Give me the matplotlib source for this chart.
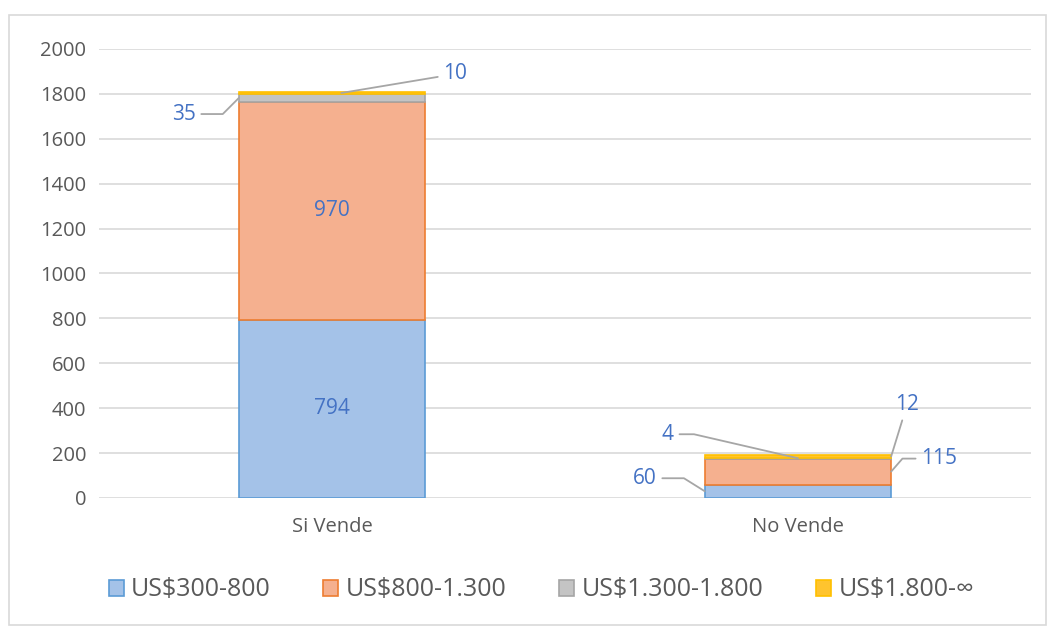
import matplotlib.pyplot as plt
from matplotlib.patches import Rectangle

plt.rcParams['font.family'] = ['Open Sans', 'DejaVu Sans']

categories = ['Si Vende', 'No Vende']
series = ['US$300-800', 'US$800-1.300', 'US$1.300-1.800', 'US$1.800-∞']
r300_800 = [794, 60]
r800_1300 = [970, 115]
r1300_1800 = [35, 4]
r1800_up = [10, 12]

faces = ['#a4c2e8', '#f5b08f', '#c4c4c4', '#ffc42e']
edges = ['#5b9bd5', '#ed7d31', '#a5a5a5', '#ffc000']
label_col = '#4472c4'
text_col = '#595959'

fig = plt.figure(figsize=(10.55, 6.33), dpi=100)
ax = fig.add_axes([0.0938, 0.2133, 0.8834, 0.7093])

# chart frame
fig.patches.append(Rectangle((0.009, 0.012), 0.982, 0.964, transform=fig.transFigure,
                             fill=False, edgecolor='#d9d9d9', linewidth=1.2))

x = range(len(categories))
width = 0.4
bottom = [0, 0]
data = [r300_800, r800_1300, r1300_1800, r1800_up]
for vals, fc, ec, name in zip(data, faces, edges, series):
    ax.bar(x, vals, width, bottom=bottom, color=fc, edgecolor=ec, linewidth=1.2, label=name, zorder=2)
    bottom = [b + v for b, v in zip(bottom, vals)]

ax.set_xlim(-0.5, 1.5)
ax.set_ylim(0, 2000)
ax.set_yticks(range(0, 2001, 200))
ax.grid(axis='y', color='#d9d9d9', linewidth=1.2, zorder=0)
ax.set_axisbelow(True)
for s in ax.spines.values():
    s.set_visible(False)
ax.tick_params(length=0, labelsize=14.5, labelcolor=text_col, pad=9)
ax.tick_params(axis='x', pad=14)
ax.set_xticks(list(x))
ax.set_xticklabels(categories)

# inside labels
ax.text(0, r300_800[0] / 2, str(r300_800[0]), ha='center', va='center', color=label_col, fontsize=15)
ax.text(0, r300_800[0] + r800_1300[0] / 2, str(r800_1300[0]), ha='center', va='center',
        color=label_col, fontsize=15)

line = dict(arrowstyle='-', color='#a6a6a6', linewidth=1.3, shrinkA=2, shrinkB=0)


def callout(val, xy, off, ha, conn):
    ax.annotate(str(val), xy=xy, xytext=off, textcoords='offset pixels', ha=ha, va='center',
                color=label_col, fontsize=15,
                arrowprops=dict(line, connectionstyle=conn))


left0 = -width / 2
left1 = 1 - width / 2
right1 = 1 + width / 2
top0 = r300_800[0] + r800_1300[0]
callout(r1300_1800[0], (left0, top0 + r1300_1800[0] / 2), (-43, -16), 'right',
        'angle,angleA=0,angleB=45,rad=0')
callout(r1800_up[0], (0.02, top0 + r1300_1800[0] + r1800_up[0] / 2), (102, 19), 'left', 'arc3')
callout(r300_800[1], (left1, r300_800[1] / 2), (-48, 13), 'right',
        'angle,angleA=0,angleB=-32,rad=0')
base1 = r300_800[1] + r800_1300[1]
callout(r1300_1800[1], (1.0, base1 + r1300_1800[1] / 2), (-124, 24), 'right',
        'angle,angleA=0,angleB=-13,rad=0')
callout(r1800_up[1], (right1, base1 + r1300_1800[1] + r1800_up[1] / 2), (16, 52), 'center', 'arc3')
callout(r800_1300[1], (right1, r300_800[1] + r800_1300[1] / 2), (30, 13), 'left',
        'angle,angleA=180,angleB=49,rad=0')

handles = [Rectangle((0, 0), 1, 1, facecolor=fc, edgecolor=ec, linewidth=1.2) for fc, ec in zip(faces, edges)]
fig.legend(handles, series, loc='center', bbox_to_anchor=(0.513, 0.068), ncol=4, frameon=False,
           fontsize=18, labelcolor=text_col, handlelength=0.6, handleheight=0.6,
           handletextpad=0.3, columnspacing=2.1)

fig.savefig('out.png', dpi=100)
